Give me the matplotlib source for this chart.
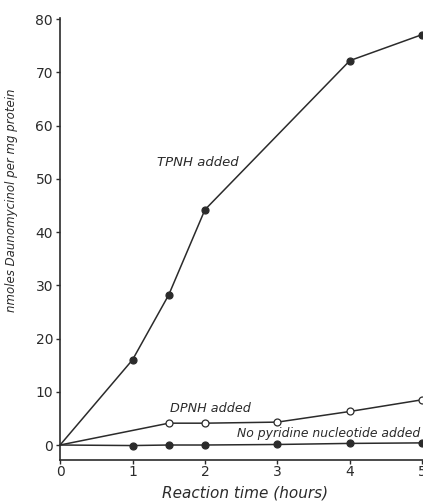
import matplotlib
matplotlib.use("Agg")
import matplotlib.pyplot as plt

# data (origin point has no marker)
tpnh_t = [1, 1.5, 2, 4, 5]
tpnh_v = [16.0, 28.2, 44.2, 72.2, 77.1]
dpnh_t = [1.5, 2, 3, 4, 5]
dpnh_v = [4.1, 4.1, 4.3, 6.3, 8.5]
none_t = [1, 1.5, 2, 3, 4, 5]
none_v = [-0.1, 0.0, 0.0, 0.1, 0.3, 0.4]

x_ticks = [0, 1, 2, 3, 4, 5]
y_ticks = [0, 10, 20, 30, 40, 50, 60, 70, 80]

INK = "#2b2b2b"
DPI = 100

fig = plt.figure(figsize=(4.23, 5.01), dpi=DPI)
ax = fig.add_axes([0.142, 0.082, 0.858, 0.882])

def series(t, v, filled):
    ax.plot([0] + t, [0] + v, color=INK, lw=1.1, zorder=2, clip_on=False)
    ax.plot(t, v, ls="none", marker="o", ms=5, mew=0.9,
            mfc=INK if filled else "white", mec=INK, zorder=3, clip_on=False)

series(tpnh_t, tpnh_v, True)
series(dpnh_t, dpnh_v, False)
series(none_t, none_v, True)

ax.set_xlim(0, 5.01)
ax.set_ylim(-2.8, 80.2)
ax.set_xticks(x_ticks)
ax.set_yticks(y_ticks)
ax.tick_params(direction="out", length=3, width=1, colors=INK, labelsize=10)
ax.tick_params(axis="y", pad=2)
ax.tick_params(axis="x", pad=1)
for s in ("top", "right"):
    ax.spines[s].set_visible(False)
for s in ("left", "bottom"):
    ax.spines[s].set_color(INK)
    ax.spines[s].set_linewidth(1.2)

ax.text(1.34, 53.1, "TPNH added", style="italic", fontsize=9.5, color=INK, va="center")
ax.text(1.52, 6.9, "DPNH added", style="italic", fontsize=9.2, color=INK, va="center")
ax.text(2.44, 2.1, "No pyridine nucleotide added", style="italic", fontsize=8.9,
        color=INK, va="center")

ax.set_xlabel("Reaction time (hours)", style="italic", fontsize=11, color=INK)
ax.xaxis.set_label_coords(0.51, -0.058)
ax.set_ylabel("nmoles Daunomycinol per mg protein", style="italic", fontsize=8.5, color=INK)
ax.yaxis.set_label_coords(-0.116, 0.588)

fig.savefig("out.png", dpi=DPI)
